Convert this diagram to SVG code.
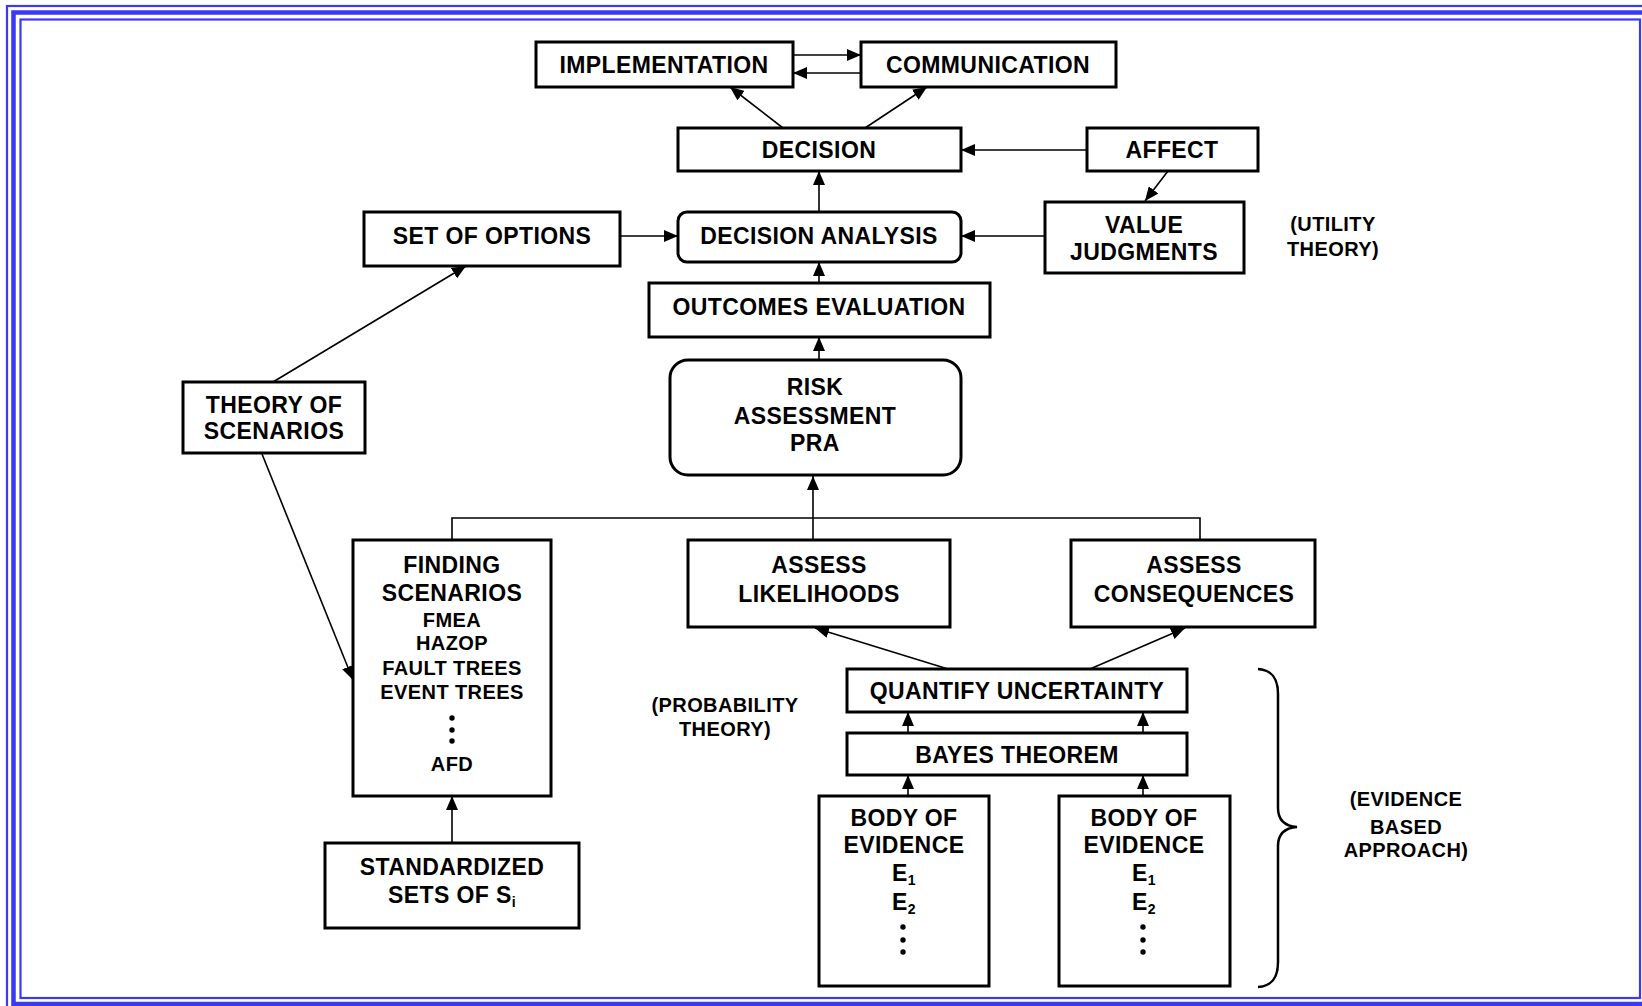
<svg xmlns="http://www.w3.org/2000/svg" width="1642" height="1006" viewBox="0 0 1642 1006">
<style>
.frame{fill:none;stroke:#3a3af2}
.box{fill:#fff;stroke:#000;stroke-width:3}
.t{font-family:"Liberation Sans",Arial,sans-serif;font-weight:bold;font-size:23px;text-anchor:middle;fill:#000;letter-spacing:0.4px}
.s{font-size:20px}
.c{fill:none;stroke:#000;stroke-width:1.6}
.dot{fill:#000}
</style>
<defs>
<marker id="ah" viewBox="0 0 14 12" refX="14" refY="6" markerWidth="14" markerHeight="12" markerUnits="userSpaceOnUse" orient="auto">
<path d="M0,0 L14,6 L0,12 z" fill="#000"/>
</marker>
</defs>
<rect width="1642" height="1006" fill="#fff"/>
<g id="frame">
<rect class="frame" x="7" y="6" width="1700" height="1100" stroke-width="2.2"/>
<rect class="frame" x="13.5" y="12.5" width="1700" height="991.5" stroke-width="4.5"/>
<rect class="frame" x="20.5" y="19.5" width="1619.5" height="978.5" stroke-width="2.2"/>
</g>
<g id="connectors">
<line class="c" x1="793" y1="55" x2="861" y2="55" marker-end="url(#ah)"/>
<line class="c" x1="861" y1="73" x2="793" y2="73" marker-end="url(#ah)"/>
<line class="c" x1="783" y1="128" x2="730" y2="87" marker-end="url(#ah)"/>
<line class="c" x1="865" y1="128" x2="927" y2="87" marker-end="url(#ah)"/>
<line class="c" x1="1087" y1="150" x2="961" y2="150" marker-end="url(#ah)"/>
<line class="c" x1="1168" y1="171" x2="1145" y2="201" marker-end="url(#ah)"/>
<line class="c" x1="819" y1="212" x2="819" y2="171" marker-end="url(#ah)"/>
<line class="c" x1="620" y1="236" x2="678" y2="236" marker-end="url(#ah)"/>
<line class="c" x1="1045" y1="236" x2="961" y2="236" marker-end="url(#ah)"/>
<line class="c" x1="819" y1="283" x2="819" y2="262" marker-end="url(#ah)"/>
<line class="c" x1="819" y1="360" x2="819" y2="337" marker-end="url(#ah)"/>
<line class="c" x1="273" y1="382" x2="466" y2="266" marker-end="url(#ah)"/>
<line class="c" x1="262" y1="454" x2="353" y2="680" marker-end="url(#ah)"/>
<polyline class="c" points="452,540 452,518 1200,518 1200,540"/>
<line class="c" x1="813" y1="540" x2="813" y2="476" marker-end="url(#ah)"/>
<line class="c" x1="948" y1="669" x2="815" y2="628" marker-end="url(#ah)"/>
<line class="c" x1="1090" y1="669" x2="1185" y2="628" marker-end="url(#ah)"/>
<line class="c" x1="908" y1="733" x2="908" y2="712" marker-end="url(#ah)"/>
<line class="c" x1="1143" y1="733" x2="1143" y2="712" marker-end="url(#ah)"/>
<line class="c" x1="908" y1="796" x2="908" y2="775" marker-end="url(#ah)"/>
<line class="c" x1="1143" y1="796" x2="1143" y2="775" marker-end="url(#ah)"/>
<line class="c" x1="452" y1="843" x2="452" y2="796" marker-end="url(#ah)"/>
</g>
<g id="implementation">
<rect class="box" x="536" y="42" width="257" height="45"/>
<text class="t" x="664" y="73">IMPLEMENTATION</text>
</g>
<g id="communication">
<rect class="box" x="861" y="42" width="255" height="45"/>
<text class="t" x="988" y="73">COMMUNICATION</text>
</g>
<g id="decision">
<rect class="box" x="678" y="128" width="283" height="43"/>
<text class="t" x="819" y="158">DECISION</text>
</g>
<g id="affect">
<rect class="box" x="1087" y="128" width="171" height="43"/>
<text class="t" x="1172" y="158">AFFECT</text>
</g>
<g id="set-of-options">
<rect class="box" x="364" y="212" width="256" height="54"/>
<text class="t" x="492" y="244">SET OF OPTIONS</text>
</g>
<g id="decision-analysis">
<rect class="box" x="678" y="212" width="283" height="50" rx="9"/>
<text class="t" x="819" y="244">DECISION ANALYSIS</text>
</g>
<g id="value-judgments">
<rect class="box" x="1045" y="202" width="199" height="71"/>
<text class="t" x="1144" y="233">VALUE</text>
<text class="t" x="1144" y="260">JUDGMENTS</text>
</g>
<g id="utility-theory">
<text class="t s" x="1333" y="231">(UTILITY</text>
<text class="t s" x="1333" y="256">THEORY)</text>
</g>
<g id="outcomes-evaluation">
<rect class="box" x="649" y="283" width="341" height="54"/>
<text class="t" x="819" y="315">OUTCOMES EVALUATION</text>
</g>
<g id="risk-assessment">
<rect class="box" x="670" y="360" width="291" height="115" rx="18"/>
<text class="t" x="815" y="395">RISK</text>
<text class="t" x="815" y="424">ASSESSMENT</text>
<text class="t" x="815" y="451">PRA</text>
</g>
<g id="theory-of-scenarios">
<rect class="box" x="183" y="382" width="182" height="71"/>
<text class="t" x="274" y="413">THEORY OF</text>
<text class="t" x="274" y="439">SCENARIOS</text>
</g>
<g id="finding-scenarios">
<rect class="box" x="353" y="540" width="198" height="256"/>
<text class="t" x="452" y="573">FINDING</text>
<text class="t" x="452" y="601">SCENARIOS</text>
<text class="t s" x="452" y="627">FMEA</text>
<text class="t s" x="452" y="650">HAZOP</text>
<text class="t s" x="452" y="675">FAULT TREES</text>
<text class="t s" x="452" y="699">EVENT TREES</text>
<circle class="dot" cx="452" cy="718" r="2.7"/>
<circle class="dot" cx="452" cy="730" r="2.7"/>
<circle class="dot" cx="452" cy="741" r="2.7"/>
<text class="t s" x="452" y="771">AFD</text>
</g>
<g id="assess-likelihoods">
<rect class="box" x="688" y="540" width="262" height="87"/>
<text class="t" x="819" y="573">ASSESS</text>
<text class="t" x="819" y="602">LIKELIHOODS</text>
</g>
<g id="assess-consequences">
<rect class="box" x="1071" y="540" width="244" height="87"/>
<text class="t" x="1194" y="573">ASSESS</text>
<text class="t" x="1194" y="602">CONSEQUENCES</text>
</g>
<g id="probability-theory">
<text class="t s" x="725" y="712">(PROBABILITY</text>
<text class="t s" x="725" y="736">THEORY)</text>
</g>
<g id="quantify-uncertainty">
<rect class="box" x="847" y="669" width="340" height="43"/>
<text class="t" x="1017" y="699">QUANTIFY UNCERTAINTY</text>
</g>
<g id="bayes-theorem">
<rect class="box" x="847" y="733" width="340" height="42"/>
<text class="t" x="1017" y="763">BAYES THEOREM</text>
</g>
<g id="body-of-evidence-1">
<rect class="box" x="819" y="796" width="170" height="190"/>
<text class="t" x="904" y="826">BODY OF</text>
<text class="t" x="904" y="853">EVIDENCE</text>
<text class="t" x="904" y="881">E<tspan font-size="14" dy="4">1</tspan></text>
<text class="t" x="904" y="910">E<tspan font-size="14" dy="4">2</tspan></text>
<circle class="dot" cx="903" cy="927" r="2.7"/>
<circle class="dot" cx="903" cy="940" r="2.7"/>
<circle class="dot" cx="903" cy="952" r="2.7"/>
</g>
<g id="body-of-evidence-2">
<rect class="box" x="1059" y="796" width="171" height="190"/>
<text class="t" x="1144" y="826">BODY OF</text>
<text class="t" x="1144" y="853">EVIDENCE</text>
<text class="t" x="1144" y="881">E<tspan font-size="14" dy="4">1</tspan></text>
<text class="t" x="1144" y="910">E<tspan font-size="14" dy="4">2</tspan></text>
<circle class="dot" cx="1143" cy="927" r="2.7"/>
<circle class="dot" cx="1143" cy="940" r="2.7"/>
<circle class="dot" cx="1143" cy="952" r="2.7"/>
</g>
<g id="standardized-sets">
<rect class="box" x="325" y="843" width="254" height="85"/>
<text class="t" x="452" y="875">STANDARDIZED</text>
<text class="t" x="452" y="903">SETS OF S<tspan font-size="14" dy="4">i</tspan></text>
</g>
<g id="evidence-brace">
<path d="M1258,669 C1272,670 1278,678 1278,694 L1278,808 C1278,819 1284,826 1297,827 C1284,828 1278,835 1278,846 L1278,962 C1278,978 1272,986 1258,987" fill="none" stroke="#000" stroke-width="2.5"/>
<text class="t s" x="1406" y="806">(EVIDENCE</text>
<text class="t s" x="1406" y="834">BASED</text>
<text class="t s" x="1406" y="857">APPROACH)</text>
</g>
</svg>
